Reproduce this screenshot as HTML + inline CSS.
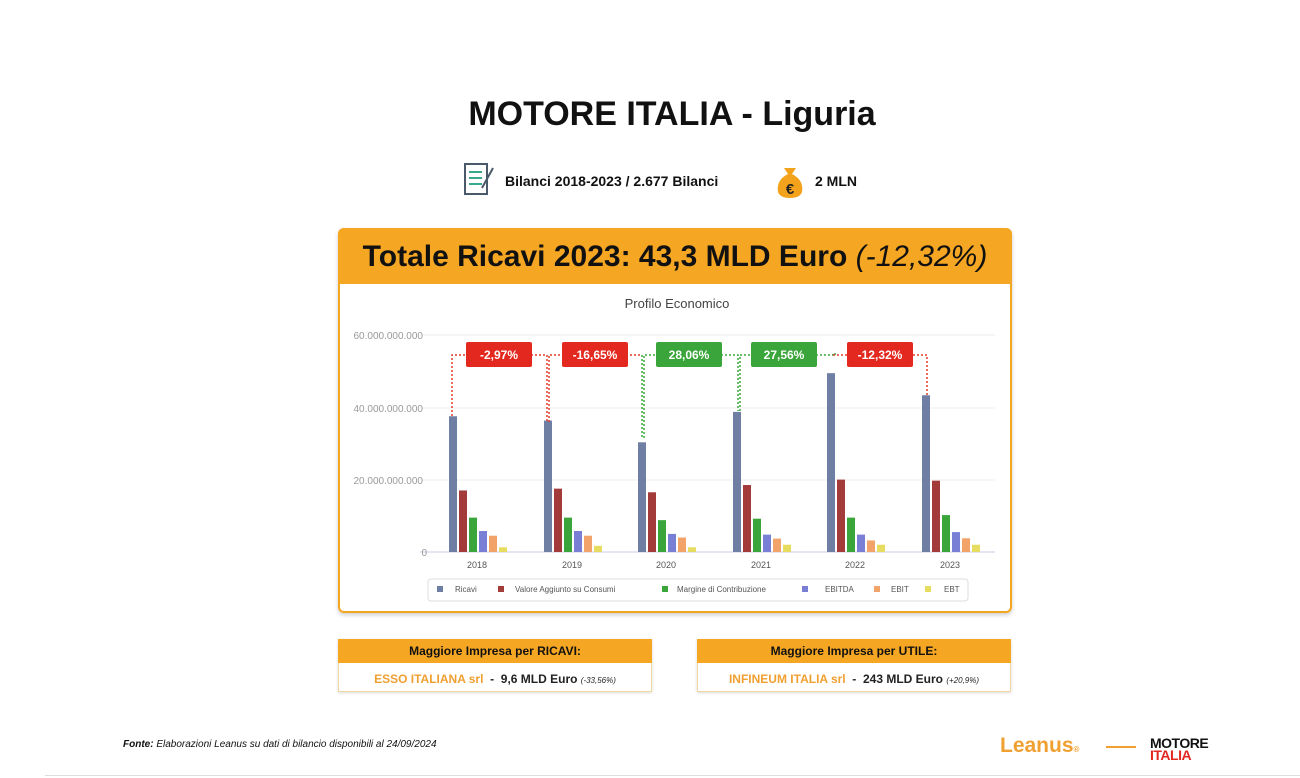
<!DOCTYPE html>
<html><head><meta charset="utf-8"><style>
body{margin:0;width:1300px;height:778px;background:#fff;font-family:"Liberation Sans",sans-serif;position:relative;overflow:hidden}
.a{position:absolute}
</style></head><body>
<div class="a" style="left:0;width:1344px;top:95px;text-align:center;font-size:34px;font-weight:bold;color:#111">MOTORE ITALIA - Liguria</div>
<svg class="a" style="left:462px;top:162px" width="34" height="36"><rect x="3" y="2" width="22" height="30" fill="#fff" stroke="#4a5a6a" stroke-width="2"/><g stroke="#3aa88a" stroke-width="2"><line x1="7" y1="10" x2="20" y2="10"/><line x1="7" y1="16" x2="20" y2="16"/><line x1="7" y1="22" x2="20" y2="22"/></g><line x1="20" y1="26" x2="31" y2="6" stroke="#4a5a6a" stroke-width="2"/></svg>
<div class="a" style="left:505px;top:173px;font-size:14px;font-weight:bold;color:#111">Bilanci 2018-2023 / 2.677 Bilanci</div>
<svg class="a" style="left:774px;top:164px" width="32" height="36"><path d="M10 4 L22 4 L18 10 Q30 16 28 28 Q26 34 16 34 Q6 34 4 28 Q2 16 14 10Z" fill="#f2a21b"/><text x="16" y="30" font-size="15" font-weight="bold" text-anchor="middle" fill="#222" font-family="Liberation Sans">€</text></svg>
<div class="a" style="left:815px;top:173px;font-size:14px;font-weight:bold;color:#111">2 MLN</div>

<div class="a" style="left:338px;top:228px;width:674px;height:385px;border:2px solid #f3a622;border-radius:6px;box-sizing:border-box;box-shadow:0 2px 4px rgba(0,0,0,.2)"></div>
<div class="a" style="left:338px;top:228px;width:674px;height:56px;background:#f5a623;border-radius:6px 6px 0 0;text-align:center;line-height:58px;font-size:30px;font-weight:bold;color:#111">Totale Ricavi 2023: 43,3 MLD Euro <i style="font-weight:normal">(-12,32%)</i></div>

<svg class="a" style="left:0;top:0" width="1300" height="778" font-family="Liberation Sans">
<text x="677" y="308" font-size="13" text-anchor="middle" fill="#444">Profilo Economico</text>
<g stroke="#eee"><line x1="420" y1="335" x2="995" y2="335"/><line x1="420" y1="408" x2="995" y2="408"/><line x1="420" y1="480" x2="995" y2="480"/></g>
<line x1="420" y1="552" x2="995" y2="552" stroke="#c8cce8"/>
<g font-size="10" fill="#999" text-anchor="end"><text x="423" y="339">60.000.000.000</text><text x="423" y="412">40.000.000.000</text><text x="423" y="484">20.000.000.000</text><text x="427" y="556">0</text></g>
<g id="bars"></g>
<g font-size="9" fill="#555" text-anchor="middle"><text x="477" y="568">2018</text><text x="572" y="568">2019</text><text x="666" y="568">2020</text><text x="761" y="568">2021</text><text x="855" y="568">2022</text><text x="950" y="568">2023</text></g>
<g fill="none" stroke-dasharray="2,2" stroke-width="1.5">
<path d="M452 416V355H547V422" stroke="#e03c2c"/><path d="M549 422V355H642" stroke="#e03c2c"/>
<path d="M642 355V438M644 438V355H738V411M740 411V355H833V352M835 355V352" stroke="#3aa83a"/>
<path d="M833 355H927V397" stroke="#e03c2c"/>
</g>
<g font-size="12" font-weight="bold" fill="#fff" text-anchor="middle">
<rect x="466" y="342" width="66" height="25" rx="2" fill="#e3281f"/><text x="499" y="359">-2,97%</text>
<rect x="562" y="342" width="66" height="25" rx="2" fill="#e3281f"/><text x="595" y="359">-16,65%</text>
<rect x="656" y="342" width="66" height="25" rx="2" fill="#3aa53a"/><text x="689" y="359">28,06%</text>
<rect x="751" y="342" width="66" height="25" rx="2" fill="#3aa53a"/><text x="784" y="359">27,56%</text>
<rect x="847" y="342" width="66" height="25" rx="2" fill="#e3281f"/><text x="880" y="359">-12,32%</text>
</g>
<rect x="428" y="579" width="540" height="22" rx="3" fill="#fff" stroke="#ddd"/>
<g font-size="8" fill="#555">
<rect x="437" y="586" width="6" height="6" fill="#6f7fa3"/><text x="455" y="592">Ricavi</text>
<rect x="498" y="586" width="6" height="6" fill="#a33b3b"/><text x="515" y="592">Valore Aggiunto su Consumi</text>
<rect x="662" y="586" width="6" height="6" fill="#3aa53a"/><text x="677" y="592">Margine di Contribuzione</text>
<rect x="802" y="586" width="6" height="6" fill="#7a7fd6"/><text x="825" y="592">EBITDA</text>
<rect x="874" y="586" width="6" height="6" fill="#f2a36a"/><text x="891" y="592">EBIT</text>
<rect x="925" y="586" width="6" height="6" fill="#e6dc60"/><text x="944" y="592">EBT</text>
</g>
</svg>

<div class="a" style="left:338px;top:639px;width:314px;height:53px;border:1px solid #f3d7a0;box-sizing:border-box;box-shadow:0 1px 3px rgba(0,0,0,.15)"></div>
<div class="a" style="left:338px;top:639px;width:314px;height:24px;background:#f5a623;text-align:center;line-height:24px;font-size:12px;font-weight:bold;color:#111">Maggiore Impresa per RICAVI:</div>
<div class="a" style="left:338px;top:672px;width:314px;text-align:center;font-size:12px;font-weight:bold;color:#222"><span style="color:#f0a030">ESSO ITALIANA srl</span> &nbsp;- &nbsp;9,6 MLD Euro <i style="font-size:8px;font-weight:normal">(-33,56%)</i></div>
<div class="a" style="left:697px;top:639px;width:314px;height:53px;border:1px solid #f3d7a0;box-sizing:border-box;box-shadow:0 1px 3px rgba(0,0,0,.15)"></div>
<div class="a" style="left:697px;top:639px;width:314px;height:24px;background:#f5a623;text-align:center;line-height:24px;font-size:12px;font-weight:bold;color:#111">Maggiore Impresa per UTILE:</div>
<div class="a" style="left:697px;top:672px;width:314px;text-align:center;font-size:12px;font-weight:bold;color:#222"><span style="color:#f0a030">INFINEUM ITALIA srl</span> &nbsp;- &nbsp;243 MLD Euro <i style="font-size:8px;font-weight:normal">(+20,9%)</i></div>

<div class="a" style="left:123px;top:739px;font-size:10px;font-style:italic;color:#111"><b>Fonte:</b> Elaborazioni Leanus su dati di bilancio disponibili al 24/09/2024</div>
<div class="a" style="left:1000px;top:734px;font-size:21px;font-weight:bold;color:#f0a030">Leanus<span style="font-size:8px">®</span></div>
<div class="a" style="left:1106px;top:746px;width:30px;height:2px;background:#f0a030"></div>
<div class="a" style="left:1150px;top:737px;font-size:14px;font-weight:900;line-height:12px;color:#111;letter-spacing:-0.5px">MOTORE<br><span style="color:#e3281f">ITALIA</span></div>
<div class="a" style="left:45px;top:775px;width:1255px;height:1px;background:#ddd"></div>

<script>
var d=[[37.5,17,9.5,5.8,4.5,1.3],[36.3,17.5,9.5,5.8,4.5,1.7],[30.3,16.5,8.8,5,4,1.3],[38.7,18.5,9.2,4.8,3.7,2],[49.4,20,9.5,4.8,3.2,2],[43.3,19.7,10.2,5.5,3.8,2]];
var c=["#6f7fa3","#a33b3b","#3aa53a","#7a7fd6","#f2a36a","#e6dc60"];
var cx=[477,572,666,761,855,950],s="";
d.forEach(function(g,i){g.forEach(function(v,j){var h=v*3.62;s+='<rect x="'+(cx[i]-28+j*10)+'" y="'+(552-h)+'" width="8" height="'+h+'" fill="'+c[j]+'"/>';});});
document.getElementById("bars").innerHTML=s;
</script>
</body></html>
